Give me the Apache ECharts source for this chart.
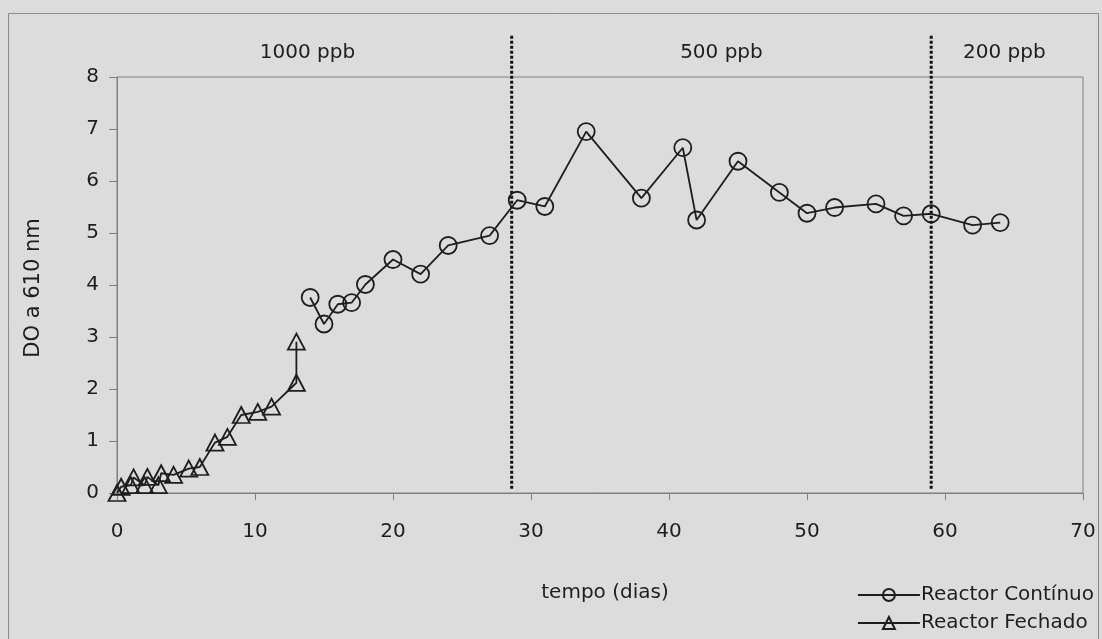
<!DOCTYPE html>
<html>
<head>
<meta charset="utf-8">
<script src="https://cdn.jsdelivr.net/npm/echarts@6/dist/echarts.min.js"></script>
<style>
  html, body { margin: 0; padding: 0; background: #dcdcdc; }
  #chart { width: 1102px; height: 639px; }
</style>
</head>
<body>
<div id="chart"></div>
<script>
// dias / DO a 610 nm
const continuoDias = [14, 15, 16, 17, 18, 20, 22, 24, 27, 29, 31, 34, 38, 41, 42, 45, 48, 50, 52, 55, 57, 59, 62, 64]
const continuoDO = [3.76, 3.25, 3.63, 3.66, 4.01, 4.49, 4.21, 4.76, 4.95, 5.63, 5.51, 6.95, 5.67, 6.64, 5.25, 6.38, 5.78, 5.38, 5.49, 5.56, 5.33, 5.37, 5.15, 5.2]

const fechadoDias = [0, 0.3, 1, 1.2, 2, 2.2, 3, 3.2, 4.1, 5.2, 6, 7.1, 8, 9, 10.2, 11.2, 13, 13]
const fechadoDO = [0, 0.12, 0.15, 0.3, 0.15, 0.31, 0.15, 0.38, 0.35, 0.47, 0.5, 0.97, 1.08, 1.5, 1.56, 1.66, 2.12, 2.91]

// mudança de concentração de 2,4-DCP
const mudancaDias = [28.6, 59]
const faseLabels = ['1000 ppb', '500 ppb', '200 ppb']
const faseDias = [13.8, 43.8, 64.3]

const xTicks = [0, 10, 20, 30, 40, 50, 60, 70]
const yTicks = [0, 1, 2, 3, 4, 5, 6, 7, 8]

const FONT = 'DejaVu Sans'
const INK = '#1e1e1e'
const AXIS = '#808080'

const chart = echarts.init(document.getElementById('chart'))

const pairs = (xs, ys) => xs.map((x, i) => [x, ys[i]])

const dividerSeries = mudancaDias.map((d) => ({
  name: 'mudanca',
  type: 'line',
  data: [[d, 0.08], [d, 8.8]],
  symbol: 'none',
  clip: false,
  silent: true,
  lineStyle: { color: '#111', width: 3, type: [3, 2] },
  z: 1,
}))

chart.setOption({
  animation: false,
  backgroundColor: '#dcdcdc',
  textStyle: { fontFamily: FONT, color: INK },
  grid: {
    left: 117,
    top: 77,
    right: 19,
    bottom: 146,
    show: true,
    borderColor: AXIS,
    borderWidth: 1,
    backgroundColor: 'transparent',
  },
  graphic: [
    {
      type: 'rect',
      shape: { x: 8.5, y: 13.5, width: 1090, height: 700 },
      style: { fill: 'none', stroke: '#8a8a8a', lineWidth: 1 },
      silent: true,
    },
  ],
  legend: {
    data: ['Reactor Contínuo', 'Reactor Fechado'],
    orient: 'vertical',
    right: 8,
    top: 585,
    padding: 0,
    itemWidth: 62,
    itemHeight: 15,
    itemGap: 8,
    textStyle: { fontFamily: FONT, fontSize: 20, color: INK, padding: [0, 0, 0, -4] },
  },
  xAxis: {
    type: 'value',
    min: 0,
    max: 70,
    interval: 10,
    name: 'tempo (dias)',
    nameLocation: 'middle',
    nameGap: 90,
    nameTextStyle: { fontFamily: FONT, fontSize: 20, color: INK, padding: [0, 0, 0, 10] },
    axisLine: { show: true, lineStyle: { color: AXIS, width: 1 } },
    axisTick: { show: true, length: 7, lineStyle: { color: AXIS } },
    axisLabel: {
      fontFamily: FONT,
      fontSize: 20,
      color: INK,
      margin: 29,
      formatter: (v) => (xTicks.includes(v) ? String(v) : ''),
    },
    splitLine: { show: false },
  },
  yAxis: {
    type: 'value',
    min: 0,
    max: 8,
    interval: 1,
    name: 'DO a 610 nm',
    nameLocation: 'middle',
    nameGap: 73,
    nameTextStyle: { fontFamily: FONT, fontSize: 21, color: INK, padding: [0, 6, 0, 0] },
    axisLine: { show: true, lineStyle: { color: AXIS, width: 1 } },
    axisTick: { show: true, length: 8, lineStyle: { color: AXIS } },
    axisLabel: {
      fontFamily: FONT,
      fontSize: 20,
      color: INK,
      margin: 18,
      formatter: (v) => (yTicks.includes(v) ? String(v) : ''),
    },
    splitLine: { show: false },
  },
  series: [
    ...dividerSeries,
    {
      name: 'fases',
      type: 'scatter',
      data: faseDias.map((d, i) => [d, 8.46, faseLabels[i]]),
      symbolSize: 0,
      clip: false,
      silent: true,
      itemStyle: { opacity: 1 },
      label: {
        show: true,
        position: 'inside',
        formatter: (p) => p.value[2],
        fontFamily: FONT,
        fontSize: 20,
        color: INK,
      },
    },
    {
      name: 'Reactor Contínuo',
      type: 'line',
      data: pairs(continuoDias, continuoDO),
      symbol: 'circle',
      symbolSize: 17,
      lineStyle: { color: INK, width: 1.8 },
      itemStyle: { color: 'rgba(0,0,0,0)', borderColor: INK, borderWidth: 1.8 },
      z: 3,
    },
    {
      name: 'Reactor Fechado',
      type: 'line',
      data: pairs(fechadoDias, fechadoDO),
      symbol: 'triangle',
      symbolSize: [17, 16],
      lineStyle: { color: INK, width: 1.8 },
      itemStyle: { color: 'rgba(0,0,0,0)', borderColor: INK, borderWidth: 1.8 },
      z: 3,
    },
  ],
})

window.addEventListener('resize', () => chart.resize())
</script>
</body>
</html>
